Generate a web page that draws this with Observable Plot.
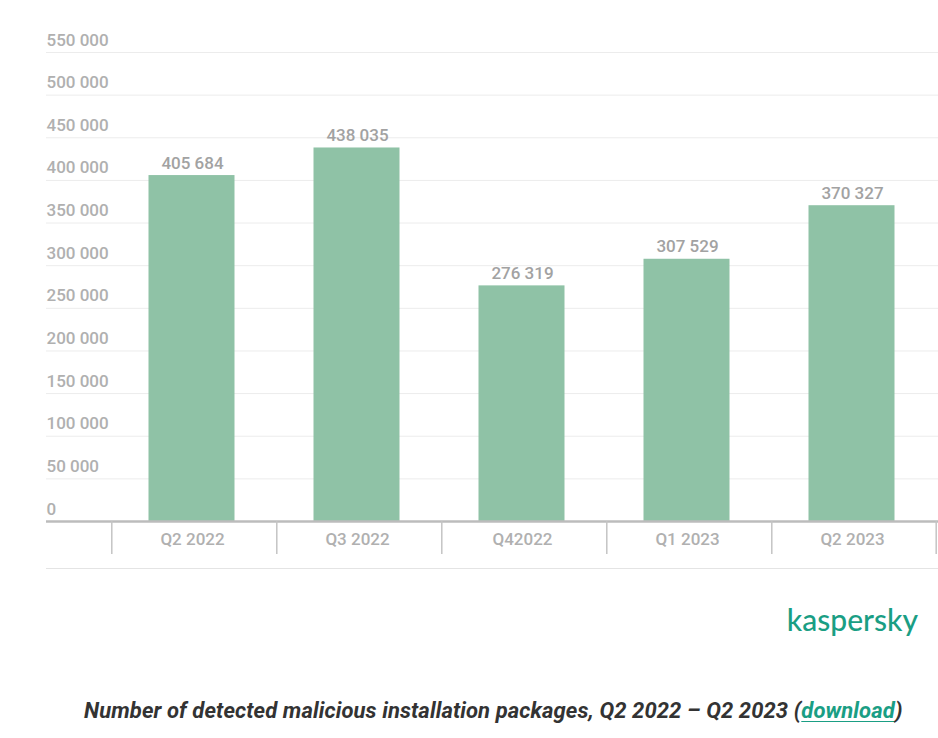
<!DOCTYPE html>
<html>
<head>
<meta charset="utf-8">
<script src="https://cdn.jsdelivr.net/npm/d3@7"></script>
<script src="https://cdn.jsdelivr.net/npm/@observablehq/plot@0.6"></script>
<style>
  html, body { margin: 0; padding: 0; background: #fff; }
  body { width: 938px; font-family: Roboto, "Noto Sans", sans-serif; }
  #chart svg { display: block; }
  .bottomline { margin-left: 46px; width: 892px; border-top: 1px solid #e4e4e4; }
  .logo { height: 104px; position: relative; }
  .logo span { position: absolute; right: 20px; top: 32px; font-family: Lato, Roboto, sans-serif; font-weight: 500; font-size: 30px; color: #1a9e84; letter-spacing: 0px; }
  .caption { position: absolute; top: 698px; left: 84px; font-family: Roboto, sans-serif; font-weight: 700; font-style: italic; font-size: 22px; color: #333; letter-spacing: 0.1px; white-space: nowrap; }
  .caption a { color: #1a9e84; text-decoration: underline; text-decoration-thickness: 1px; text-underline-offset: 3px; }
</style>
</head>
<body>
<div id="chart"></div>
<div class="bottomline"></div>
<div class="logo"><span>kaspersky</span></div>
<div class="caption">Number of detected malicious installation packages, Q2 2022 – Q2 2023 (<a>download</a>)</div>
<script>
const categories = ["Q2 2022", "Q3 2022", "Q42022", "Q1 2023", "Q2 2023"];
const values = [405684, 438035, 276319, 307529, 370327];
const yTicks = [0, 50000, 100000, 150000, 200000, 250000, 300000, 350000, 400000, 450000, 500000, 550000];

const data = categories.map((c, i) => ({category: c, value: values[i]}));
const fmt = v => d3.format(",")(v).replace(/,/g, " ");

const H = 568;
const marginTop = 30;
const marginBottom = H - 554;
const step = (937 - 110) / categories.length;

const plot = Plot.plot({
  width: 938,
  height: H,
  marginLeft: 46,
  marginRight: 0,
  marginTop,
  marginBottom,
  style: {fontFamily: "Roboto, sans-serif", background: "#fff"},
  x: {domain: categories, range: [110, 937], paddingInner: 0.48, paddingOuter: 0.24, axis: null},
  y: {domain: [0, 550000], range: [521, 52], axis: null},
  marks: [
    Plot.ruleY(yTicks.filter(d => d > 0), {y: d => d, stroke: "#ececec", strokeWidth: 1}),
    Plot.text(yTicks, {
      y: d => d, text: d => fmt(d), frameAnchor: "left", textAnchor: "start",
      lineAnchor: "bottom", dy: -7, fill: "#b0b0b0", fontSize: 17, fontWeight: 500
    }),
    Plot.barY(data, {x: "category", y: "value", fill: "#8fc2a6", dx: -2.5}),
    Plot.text(data, {
      x: "category", y: "value", text: d => fmt(d.value), lineAnchor: "bottom",
      dy: -7, dx: -2, fill: "#a2a2a2", fontSize: 17, fontWeight: 500
    }),
    Plot.ruleY([0], {stroke: "#bcbcbc", strokeWidth: 2.5}),
    Plot.ruleX(categories, {x: d => d, dx: -step / 2, stroke: "#c4c4c4", strokeWidth: 1.5, insetTop: 521 - marginTop}),
    Plot.ruleX([categories[categories.length - 1]], {x: d => d, dx: step / 2 - 1, stroke: "#c4c4c4", strokeWidth: 1.5, insetTop: 521 - marginTop}),
    Plot.text(categories, {
      x: d => d, text: d => d, frameAnchor: "bottom", lineAnchor: "middle",
      dy: -15, dx: -2, fill: "#b0b0b0", fontSize: 17, fontWeight: 500
    })
  ]
});
document.getElementById("chart").appendChild(plot);
</script>
</body>
</html>
